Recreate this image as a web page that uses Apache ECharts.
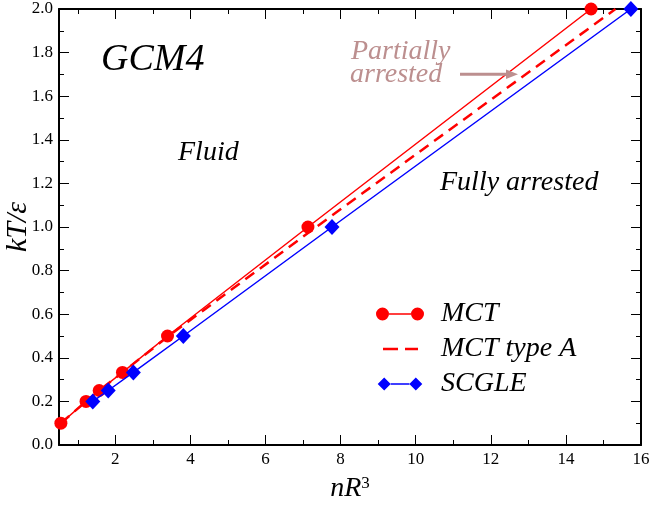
<!DOCTYPE html>
<html>
<head>
<meta charset="utf-8">
<script src="https://cdn.jsdelivr.net/npm/echarts@6/dist/echarts.min.js"></script>
<style>html,body{margin:0;padding:0;background:#fff}#c{width:652px;height:506px}</style>
</head>
<body>
<div id="c"></div>
<script>
// Data
const mctX   = [0.55, 1.22, 1.57, 2.19, 3.39, 7.13, 14.67];
const mctY   = [0.1, 0.2, 0.25, 0.333, 0.5, 1.0, 2.0];
const mctAX  = [0.55, 1.22, 1.57, 2.19, 3.42, 7.35, 15.32];
const mctAY  = [0.1, 0.2, 0.25, 0.333, 0.5, 1.0, 2.0];
const scgleX = [1.40, 1.81, 2.48, 3.81, 7.77, 15.73];
const scgleY = [0.2, 0.25, 0.333, 0.5, 1.0, 2.0];
const xMajorTicks = [2, 4, 6, 8, 10, 12, 14, 16];
const xMinorTicks = [1, 3, 5, 7, 9, 11, 13, 15];
const seriesNames = ['MCT', 'MCT type A', 'SCGLE'];

const FONT = 'Liberation Serif';
const zip = (xs, ys) => xs.map((x, i) => [x, ys[i]]);

const chart = echarts.init(document.getElementById('c'), null, {renderer: 'canvas'});

const xCommon = {
  type: 'value', min: 0.5, max: 16,
  splitLine: {show: false}
};
const tickLine = {color: '#000', width: 1};
const axLine = {show: true, lineStyle: {color: '#000', width: 2}};

const option = {
  animation: false,
  backgroundColor: '#fff',
  grid: {left: 59, right: 11, top: 9, bottom: 61, containLabel: false, outerBoundsMode: 'none'},
  xAxis: [
    Object.assign({}, xCommon, {
      position: 'bottom',
      axisLine: axLine,
      axisTick: {show: true, inside: true, length: 10, lineStyle: tickLine, customValues: xMajorTicks},
      axisLabel: {show: true, customValues: xMajorTicks, color: '#000', fontFamily: FONT, fontSize: 17, margin: 6},
      name: '{i|nR}{s|3}',
      nameLocation: 'middle', nameGap: 30, nameMoveOverlap: false,
      nameTextStyle: {
        rich: {
          i: {fontFamily: FONT, fontStyle: 'italic', fontSize: 28, color: '#000'},
          s: {fontFamily: FONT, fontSize: 17, color: '#000', verticalAlign: 'top'}
        }
      }
    }),
    Object.assign({}, xCommon, {
      position: 'bottom',
      axisLine: {show: false},
      axisTick: {show: true, inside: true, length: 5, lineStyle: tickLine, customValues: xMinorTicks},
      axisLabel: {show: false}
    }),
    Object.assign({}, xCommon, {
      position: 'top',
      axisLine: axLine,
      axisTick: {show: true, inside: true, length: 10, lineStyle: tickLine, customValues: xMajorTicks},
      axisLabel: {show: false}
    }),
    Object.assign({}, xCommon, {
      position: 'top',
      axisLine: {show: false},
      axisTick: {show: true, inside: true, length: 5, lineStyle: tickLine, customValues: xMinorTicks},
      axisLabel: {show: false}
    })
  ],
  yAxis: [
    {
      type: 'value', min: 0, max: 2, interval: 0.2, position: 'left',
      splitLine: {show: false},
      axisLine: axLine,
      axisTick: {show: true, inside: true, length: 10, lineStyle: tickLine},
      minorTick: {show: true, splitNumber: 2, length: 5, lineStyle: tickLine},
      axisLabel: {color: '#000', fontFamily: FONT, fontSize: 17, margin: 6,
                  formatter: v => v.toFixed(1)},
      name: 'kT/ε', nameLocation: 'middle', nameGap: 26, nameRotate: 90, nameMoveOverlap: false,
      nameTextStyle: {fontFamily: FONT, fontStyle: 'italic', fontSize: 30, color: '#000'}
    },
    {
      type: 'value', min: 0, max: 2, interval: 0.2, position: 'right',
      splitLine: {show: false},
      axisLine: axLine,
      axisTick: {show: true, inside: true, length: 10, lineStyle: tickLine},
      minorTick: {show: true, splitNumber: 2, length: 5, lineStyle: tickLine},
      axisLabel: {show: false}
    }
  ],
  legend: {
    orient: 'vertical', left: 376, top: 300, padding: 0,
    itemWidth: 48, itemHeight: 13, itemGap: 7,
    selectedMode: false,
    itemStyle: {borderWidth: 0},
    textStyle: {fontFamily: FONT, fontStyle: 'italic', fontSize: 28, color: '#000',
                lineHeight: 26, padding: [0, 0, 0, 12]},
    data: [
      {name: seriesNames[0], icon: 'path://M0,0 Z M48,13 Z M0,6.5 A6.5,6.5 0 1,0 13,6.5 A6.5,6.5 0 1,0 0,6.5 Z M35,6.5 A6.5,6.5 0 1,0 48,6.5 A6.5,6.5 0 1,0 35,6.5 Z M13,5.7 L35,5.7 L35,7.3 L13,7.3 Z'},
      {name: seriesNames[1], icon: 'path://M0,0 Z M48,13 Z M7,5.3 L22,5.3 L22,7.7 L7,7.7 Z M29,5.3 L42,5.3 L42,7.7 L29,7.7 Z'},
      {name: seriesNames[2], icon: 'path://M0,0 Z M48,13 Z M0,6.5 L7,-0.5 L14,6.5 L7,13.5 Z M34,6.5 L41,-0.5 L48,6.5 L41,13.5 Z M14,5.7 L34,5.7 L34,7.3 L14,7.3 Z'}
    ]
  },
  series: [
    {
      name: seriesNames[0], type: 'line', xAxisIndex: 0, yAxisIndex: 0,
      data: zip(mctX, mctY),
      color: '#ff0000',
      symbol: 'circle', symbolSize: 13,
      lineStyle: {color: '#ff0000', width: 1.5},
      itemStyle: {color: '#ff0000'},
      clip: false, z: 3
    },
    {
      name: seriesNames[1], type: 'line', xAxisIndex: 0, yAxisIndex: 0,
      data: zip(mctAX, mctAY),
      color: '#ff0000',
      showSymbol: false, symbol: 'none',
      lineStyle: {color: '#ff0000', width: 2.5, type: [11, 7]},
      itemStyle: {color: '#ff0000'},
      clip: false, z: 3
    },
    {
      name: seriesNames[2], type: 'line', xAxisIndex: 0, yAxisIndex: 0,
      data: zip(scgleX, scgleY),
      color: '#0000ff',
      symbol: 'diamond', symbolSize: [15, 16],
      lineStyle: {color: '#0000ff', width: 1.5},
      itemStyle: {color: '#0000ff'},
      clip: false, z: 4
    }
  ],
  graphic: [
    {type: 'text', left: 101, top: 41, z: 10, style: {text: 'GCM4', fontFamily: FONT, fontStyle: 'italic', fontSize: 38, fill: '#000'}},
    {type: 'text', left: 178, top: 139, z: 10, style: {text: 'Fluid', fontFamily: FONT, fontStyle: 'italic', fontSize: 28, fill: '#000'}},
    {type: 'text', left: 440, top: 169, z: 10, style: {text: 'Fully arrested', fontFamily: FONT, fontStyle: 'italic', fontSize: 28, fill: '#000'}},
    {type: 'text', left: 351, top: 38, z: 10, style: {text: 'Partially', fontFamily: FONT, fontStyle: 'italic', fontSize: 28, fill: '#bc8f8f'}},
    {type: 'text', left: 350, top: 61, z: 10, style: {text: 'arrested', fontFamily: FONT, fontStyle: 'italic', fontSize: 28, fill: '#bc8f8f'}},
    {type: 'line', z: 10, shape: {x1: 460, y1: 74.3, x2: 510, y2: 74.3}, style: {stroke: '#bc8f8f', lineWidth: 3}},
    {type: 'polygon', z: 10, shape: {points: [[518, 74.3], [506, 69.5], [506, 79.1]]}, style: {fill: '#bc8f8f'}}
  ]
};
chart.setOption(option);
</script>
</body>
</html>
